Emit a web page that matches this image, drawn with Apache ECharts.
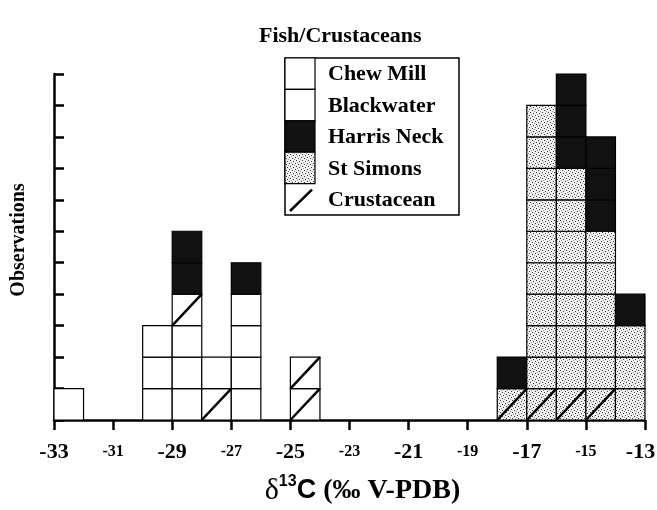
<!DOCTYPE html>
<html>
<head>
<meta charset="utf-8">
<title>Fish/Crustaceans</title>
<script src="https://cdn.jsdelivr.net/npm/echarts@6/dist/echarts.min.js"></script>
<style>
  html, body { margin: 0; padding: 0; background: #fff; }
  #main { width: 657px; height: 510px; }
</style>
</head>
<body>
<div id="main"></div>
<script>
// left edge of each 1 per-mil bin
var bins = [-33, -32, -31, -30, -29, -28, -27, -26, -25, -24, -23, -22, -21, -20, -19, -18, -17, -16, -15, -14];

// boxes per bin, stacked in this order from the bottom
var chewMill           = [1, 0, 0, 3, 3, 0, 0, 0, 0, 0, 0, 0, 0, 0, 0, 0, 0, 0, 0, 0];
var crustaceanWhite    = [0, 0, 0, 0, 1, 1, 0, 0, 2, 0, 0, 0, 0, 0, 0, 0, 0, 0, 0, 0];
var blackwater         = [0, 0, 0, 0, 0, 1, 4, 0, 0, 0, 0, 0, 0, 0, 0, 0, 0, 0, 0, 0];
var crustaceanStSimons = [0, 0, 0, 0, 0, 0, 0, 0, 0, 0, 0, 0, 0, 0, 0, 1, 1, 1, 1, 0];
var stSimons           = [0, 0, 0, 0, 0, 0, 0, 0, 0, 0, 0, 0, 0, 0, 0, 0, 9, 7, 5, 3];
var harrisNeck         = [0, 0, 0, 0, 2, 0, 1, 0, 0, 0, 0, 0, 0, 0, 0, 1, 0, 3, 3, 1];

var legendNames = ['Chew Mill', 'Blackwater', 'Harris Neck', 'St Simons', 'Crustacean'];

// stipple texture for St Simons
function makeStipple() {
    var c = document.createElement('canvas');
    c.width = 6;
    c.height = 6;
    var ctx = c.getContext('2d');
    ctx.fillStyle = '#f0f0f0';
    ctx.fillRect(0, 0, 6, 6);
    ctx.fillStyle = '#3a3a3a';
    ctx.fillRect(1, 1, 1, 1);
    ctx.fillRect(4, 2, 1, 1);
    ctx.fillRect(2, 4, 1, 1);
    ctx.fillRect(5, 5, 1, 1);
    ctx.fillStyle = '#9a9a9a';
    ctx.fillRect(0, 3, 1, 1);
    ctx.fillRect(3, 0, 1, 1);
    return c;
}
var stipple = { image: makeStipple(), repeat: 'repeat' };
var fills = ['#ffffff', '#111111', stipple];   // 0 white, 1 black, 2 stipple

var layers = [
    { counts: chewMill, fill: 0, crust: 0 },
    { counts: crustaceanWhite, fill: 0, crust: 1 },
    { counts: blackwater, fill: 0, crust: 0 },
    { counts: crustaceanStSimons, fill: 2, crust: 1 },
    { counts: stSimons, fill: 2, crust: 0 },
    { counts: harrisNeck, fill: 1, crust: 0 }
];

var cells = [];
for (var i = 0; i < bins.length; i++) {
    var level = 0;
    for (var j = 0; j < layers.length; j++) {
        for (var k = 0; k < layers[j].counts[i]; k++) {
            cells.push([bins[i], level, layers[j].fill, layers[j].crust]);
            level++;
        }
    }
}

function renderCell(params, api) {
    var x0 = api.value(0);
    var lv = api.value(1);
    var tl = api.coord([x0, lv + 1]);
    var br = api.coord([x0 + 1, lv]);
    var children = [{
        type: 'rect',
        shape: { x: tl[0], y: tl[1], width: br[0] - tl[0], height: br[1] - tl[1] },
        style: { fill: fills[api.value(2)], stroke: '#000', lineWidth: 1.2 }
    }];
    if (api.value(3) == 1) {
        children.push({
            type: 'line',
            shape: { x1: tl[0], y1: br[1], x2: br[0], y2: tl[1] },
            style: { stroke: '#000', lineWidth: 2.5 }
        });
    }
    return { type: 'group', children: children };
}

var serif = '"Liberation Serif", "Times New Roman", serif';
var sans = '"Liberation Sans", Arial, sans-serif';

// legend box drawn by hand: swatch column + labels
var lgX = 285, lgY = 58, rowH = 31.4;
var legendEls = [{
    type: 'rect',
    shape: { x: lgX, y: lgY, width: 174, height: 157 },
    style: { fill: '#fff', stroke: '#000', lineWidth: 1.5 }
}];
var swatchFills = [fills[0], fills[0], fills[1], fills[2]];
for (var s = 0; s < swatchFills.length; s++) {
    legendEls.push({
        type: 'rect',
        shape: { x: lgX, y: lgY + rowH * s, width: 30, height: rowH },
        style: { fill: swatchFills[s], stroke: '#000', lineWidth: 1.2 }
    });
}
legendEls.push({
    type: 'line',
    shape: { x1: lgX + 5, y1: lgY + rowH * 5 - 4, x2: lgX + 27, y2: lgY + rowH * 4 + 6 },
    style: { stroke: '#000', lineWidth: 2.5 }
});
for (var n = 0; n < legendNames.length; n++) {
    legendEls.push({
        type: 'text',
        x: lgX + 43,
        y: lgY + rowH * n + rowH / 2 + 1,
        style: {
            text: legendNames[n],
            font: 'bold 22px ' + serif,
            fill: '#000',
            verticalAlign: 'middle'
        }
    });
}

var myChart = echarts.init(document.getElementById('main'));

var option = {
    animation: false,
    title: {
        text: 'Fish/Crustaceans',
        left: 254,
        top: 20,
        textStyle: { fontFamily: serif, fontWeight: 'bold', fontSize: 22, color: '#000' }
    },
    grid: { left: 54, right: 12, top: 74, bottom: 90, outerBoundsMode: 'none' },
    xAxis: {
        type: 'value',
        min: -33,
        max: -13,
        interval: 2,
        splitLine: { show: false },
        axisLine: { lineStyle: { color: '#000', width: 2.5 } },
        axisTick: { length: 10, lineStyle: { color: '#000', width: 2.5 } },
        axisLabel: {
            margin: 20,
            formatter: function (v) {
                if (v === -13) return '{e|' + v + '}';   // nudged left so it stays on the page
                var big = ((v + 33) / 2) % 2 === 0;
                return big ? '{b|' + v + '}' : '{s|' + v + '}';
            },
            rich: {
                b: { fontFamily: serif, fontWeight: 'bold', fontSize: 22, color: '#000', lineHeight: 24 },
                e: { fontFamily: serif, fontWeight: 'bold', fontSize: 22, color: '#000', lineHeight: 24, padding: [0, 9, 0, 0] },
                s: { fontFamily: serif, fontWeight: 'bold', fontSize: 16, color: '#000', lineHeight: 24 }
            }
        },
        name: '{d|δ}{sup|13}{c|C}{r| (‰ V-PDB)}',
        nameLocation: 'middle',
        nameGap: 54,
        nameTextStyle: {
            padding: [0, 0, 0, 26],
            rich: {
                d: { fontFamily: serif, fontSize: 30, color: '#000' },
                sup: { fontFamily: sans, fontWeight: 'bold', fontSize: 16, color: '#000', padding: [0, 0, 18, 0] },
                c: { fontFamily: sans, fontWeight: 'bold', fontSize: 27, color: '#000' },
                r: { fontFamily: serif, fontWeight: 'bold', fontSize: 28, color: '#000' }
            }
        }
    },
    yAxis: {
        type: 'value',
        min: 0,
        max: 11,
        interval: 1,
        splitLine: { show: false },
        axisLine: { lineStyle: { color: '#000', width: 2.5 } },
        axisTick: { inside: true, length: 10, lineStyle: { color: '#000', width: 2.5 } },
        axisLabel: { show: false },
        name: 'Observations',
        nameLocation: 'middle',
        nameGap: 25,
        nameRotate: 90,
        nameTextStyle: { fontFamily: serif, fontWeight: 'bold', fontSize: 20, color: '#000', padding: [0, 0, 0, 14] }
    },
    series: [{
        name: 'boxes',
        type: 'custom',
        renderItem: renderCell,
        encode: { x: 0, y: 1 },
        data: cells
    }],
    graphic: legendEls
};

myChart.setOption(option);
</script>
</body>
</html>
